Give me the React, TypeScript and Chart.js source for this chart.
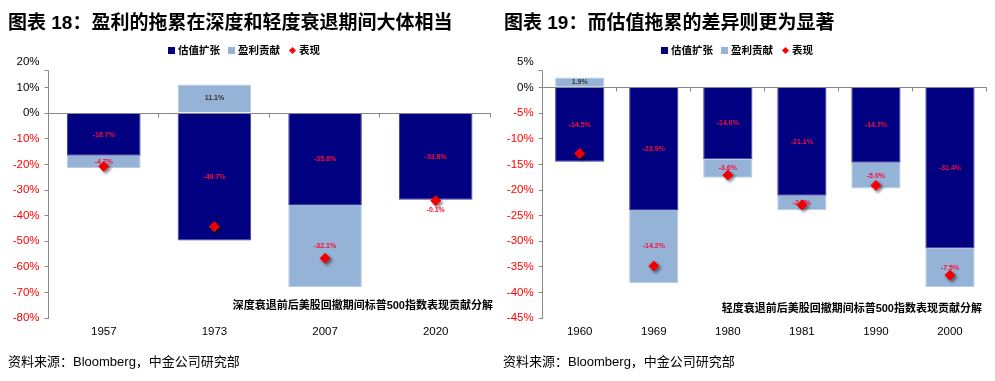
import React, { useEffect, useRef } from "react";
import { Chart, registerables } from "chart.js";

Chart.register(...registerables);

// ---------- data ----------
const leftTitle = "图表 18：盈利的拖累在深度和轻度衰退期间大体相当";
const leftSubtitle = "深度衰退前后美股回撤期间标普500指数表现贡献分解";
const leftCategories = ["1957", "1973", "2007", "2020"];
const leftValuation = [-16.7, -49.7, -35.8, -33.8];
const leftEarnings = [-4.7, 11.1, -32.1, -0.1];
const leftPerformance = [-20.8, -44.3, -56.6, -34.2];
const leftAxis = [-80, 20, 10]; // min, max, step

const rightTitle = "图表 19：而估值拖累的差异则更为显著";
const rightSubtitle = "轻度衰退前后美股回撤期间标普500指数表现贡献分解";
const rightCategories = ["1960", "1969", "1980", "1981", "1990", "2000"];
const rightValuation = [-14.5, -23.9, -14.0, -21.1, -14.7, -31.4];
const rightEarnings = [1.9, -14.2, -3.6, -2.8, -5.0, -7.5];
const rightPerformance = [-12.9, -34.8, -17.1, -22.9, -19.1, -36.6];
const rightAxis = [-45, 5, 5];

const seriesNames = ["估值扩张", "盈利贡献", "表现"];
const sourceText = "资料来源：Bloomberg，中金公司研究部";

// ---------- style ----------
const FONT = "'Liberation Sans', Arial, 'Noto Sans CJK SC', sans-serif";
const NAVY = "#000080";
const NAVY_EDGE = "#3c3c9c";
const LIGHT = "#95b3d7";
const LIGHT_EDGE = "#b8cce4";
const RED = "#ff0000";
const LABEL_RED = "#ff0a3a";
const GRAY = "#878787";
const TOP = 61.7;
const CANVAS_H = 381;
const X_AXIS_H = 25;
const BOTTOM_PAD = CANVAS_H - 318.3 - X_AXIS_H;

const decor = {
  id: "decor",
  beforeDatasetDraw(chart: any, args: any) {
    if (args.index === 2) {
      const c = chart.ctx;
      c.save();
      c.shadowColor = "rgba(0,0,0,0.45)";
      c.shadowBlur = 3;
      c.shadowOffsetX = 2;
      c.shadowOffsetY = 2;
    }
  },
  afterDatasetDraw(chart: any, args: any) {
    if (args.index === 2) {
      chart.ctx.restore();
      return;
    }
    if (args.index !== 0) return;
    const ctx = chart.ctx;
    const { left, right, top, bottom } = chart.chartArea;
    const ys = chart.scales.y;
    const n = chart.data.labels.length;
    ctx.save();
    ctx.strokeStyle = GRAY;
    ctx.lineWidth = 1;
    // y axis line (top slightly cut like the reference)
    const ax = Math.round(left) - 0.5;
    const ty = Math.round(top + 8.6) + 0.5;
    ctx.beginPath();
    ctx.moveTo(ax, ty);
    ctx.lineTo(ax, bottom);
    ctx.moveTo(ax - 4, ty);
    ctx.lineTo(ax, ty);
    ctx.stroke();
    // zero line with category ticks
    const y0 = Math.round(ys.getPixelForValue(0)) + 0.5;
    ctx.beginPath();
    ctx.moveTo(left, y0);
    ctx.lineTo(right, y0);
    const cw = (right - left) / n;
    for (let i = 1; i <= n; i++) {
      const x = Math.round(left + i * cw) - 0.5;
      ctx.moveTo(x, y0);
      ctx.lineTo(x, y0 + 4);
    }
    ctx.stroke();
    // data labels
    ctx.font = "bold 7px " + FONT;
    ctx.textAlign = "center";
    ctx.textBaseline = "middle";
    [0, 1].forEach((di) => {
      const meta = chart.getDatasetMeta(di);
      const vals = chart.data.datasets[di].data;
      meta.data.forEach((bar: any, i: number) => {
        const v = vals[i];
        const p = bar.getProps(["x", "y", "base"], true);
        let ly = (p.y + p.base) / 2;
        if (Math.abs(p.y - p.base) < 8) ly = Math.max(p.y, p.base) + 10;
        ctx.fillStyle = v < 0 ? LABEL_RED : "#333333";
        ctx.fillText(v.toFixed(1) + "%", p.x, ly);
      });
    });
    ctx.restore();
  },
};

type PanelProps = {
  categories: string[];
  valuation: number[];
  earnings: number[];
  performance: number[];
  axis: number[];
  left: number;
  width: number;
  yAxisWidth: number;
  padRight: number;
};

function Panel(props: PanelProps) {
  const ref = useRef<HTMLCanvasElement>(null);
  useEffect(() => {
    const { categories, valuation, earnings, performance, axis, yAxisWidth, padRight } = props;
    const [min, max, step] = axis;
    const chart = new Chart(ref.current as HTMLCanvasElement, {
      type: "bar",
      data: {
        labels: categories,
        datasets: [
          {
            label: seriesNames[0],
            data: valuation,
            backgroundColor: NAVY,
            borderColor: NAVY_EDGE,
            borderWidth: 1,
            order: 1,
            stack: "s",
            barPercentage: 0.665,
            categoryPercentage: 1,
          } as any,
          {
            label: seriesNames[1],
            data: earnings,
            backgroundColor: LIGHT,
            borderColor: LIGHT_EDGE,
            borderWidth: 1,
            order: 2,
            stack: "s",
            barPercentage: 0.665,
            categoryPercentage: 1,
          } as any,
          {
            type: "line",
            label: seriesNames[2],
            data: performance,
            showLine: false,
            pointStyle: "rectRot",
            pointRadius: 5,
            pointHoverRadius: 5,
            pointBackgroundColor: RED,
            pointBorderColor: RED,
            backgroundColor: RED,
            borderColor: RED,
            order: 0,
            stack: "p",
          } as any,
        ],
      },
      options: {
        responsive: false,
        animation: false,
        events: [],
        layout: { padding: { top: TOP, bottom: BOTTOM_PAD, left: 0, right: padRight } },
        plugins: { legend: { display: false }, tooltip: { enabled: false } },
        scales: {
          x: {
            stacked: true,
            grid: { display: false, drawTicks: false },
            border: { display: false },
            ticks: { color: "#000", font: { family: FONT, size: 11.5 }, padding: 6.5 },
            afterFit: (s: any) => {
              s.height = X_AXIS_H;
            },
          },
          y: {
            stacked: true,
            min,
            max,
            ticks: {
              stepSize: step,
              callback: (v: any) => v + "%",
              color: (c: any) => (c.tick && c.tick.value < 0 ? RED : "#000"),
              font: { family: FONT, size: 11.5 },
              padding: 5,
            },
            grid: {
              drawOnChartArea: false,
              drawTicks: true,
              tickLength: 4,
              color: (c: any) => (c.tick && c.tick.value === max ? "rgba(0,0,0,0)" : GRAY),
            },
            border: { display: false },
            afterFit: (s: any) => {
              s.width = yAxisWidth;
            },
          },
        } as any,
      },
      plugins: [decor],
    });
    return () => chart.destroy();
  }, []);
  return (
    <canvas
      ref={ref}
      width={props.width}
      height={CANVAS_H}
      style={{ position: "absolute", left: props.left, top: 0, width: props.width, height: CANVAS_H }}
    />
  );
}

function Legend({ left }: { left: number }) {
  const text: React.CSSProperties = { fontSize: 10.5, fontWeight: "bold", color: "#000", lineHeight: "14px" };
  const box = (c: string): React.CSSProperties => ({ width: 7, height: 7, background: c, marginRight: 3 });
  return (
    <div style={{ position: "absolute", left, top: 43, height: 14, display: "flex", alignItems: "center", fontFamily: FONT }}>
      <div style={box(NAVY)} />
      <span style={{ ...text, marginRight: 8 }}>{seriesNames[0]}</span>
      <div style={box(LIGHT)} />
      <span style={{ ...text, marginRight: 9 }}>{seriesNames[1]}</span>
      <div style={{ width: 5, height: 5, background: RED, transform: "rotate(45deg)", marginRight: 4, marginLeft: 1 }} />
      <span style={text}>{seriesNames[2]}</span>
    </div>
  );
}

export default function App() {
  const title: React.CSSProperties = {
    position: "absolute",
    top: 11,
    fontSize: 19,
    lineHeight: "24px",
    fontWeight: "bold",
    fontFamily: FONT,
    color: "#000",
    whiteSpace: "nowrap",
  };
  const sub: React.CSSProperties = {
    position: "absolute",
    fontSize: 11,
    lineHeight: "16px",
    fontWeight: "bold",
    fontFamily: FONT,
    color: "#000",
    whiteSpace: "nowrap",
    textAlign: "right",
  };
  const src: React.CSSProperties = {
    position: "absolute",
    top: 354,
    fontSize: 13,
    lineHeight: "16px",
    fontFamily: FONT,
    color: "#000",
    whiteSpace: "nowrap",
  };
  return (
    <div style={{ position: "absolute", left: 0, top: 0, width: 995, height: 381, background: "#fff", overflow: "hidden" }}>
      <Panel
        categories={leftCategories}
        valuation={leftValuation}
        earnings={leftEarnings}
        performance={leftPerformance}
        axis={leftAxis}
        left={0}
        width={497}
        yAxisWidth={48.5}
        padRight={5}
      />
      <Panel
        categories={rightCategories}
        valuation={rightValuation}
        earnings={rightEarnings}
        performance={rightPerformance}
        axis={rightAxis}
        left={497}
        width={498}
        yAxisWidth={45.7}
        padRight={8}
      />
      <div style={{ ...title, left: 8 }}>{leftTitle}</div>
      <div style={{ ...title, left: 504 }}>{rightTitle}</div>
      <Legend left={168} />
      <Legend left={661} />
      <div style={{ ...sub, right: 995 - 493, top: 297 }}>{leftSubtitle}</div>
      <div style={{ ...sub, right: 995 - 982, top: 300 }}>{rightSubtitle}</div>
      <div style={{ ...src, left: 8 }}>{sourceText}</div>
      <div style={{ ...src, left: 503 }}>{sourceText}</div>
    </div>
  );
}
